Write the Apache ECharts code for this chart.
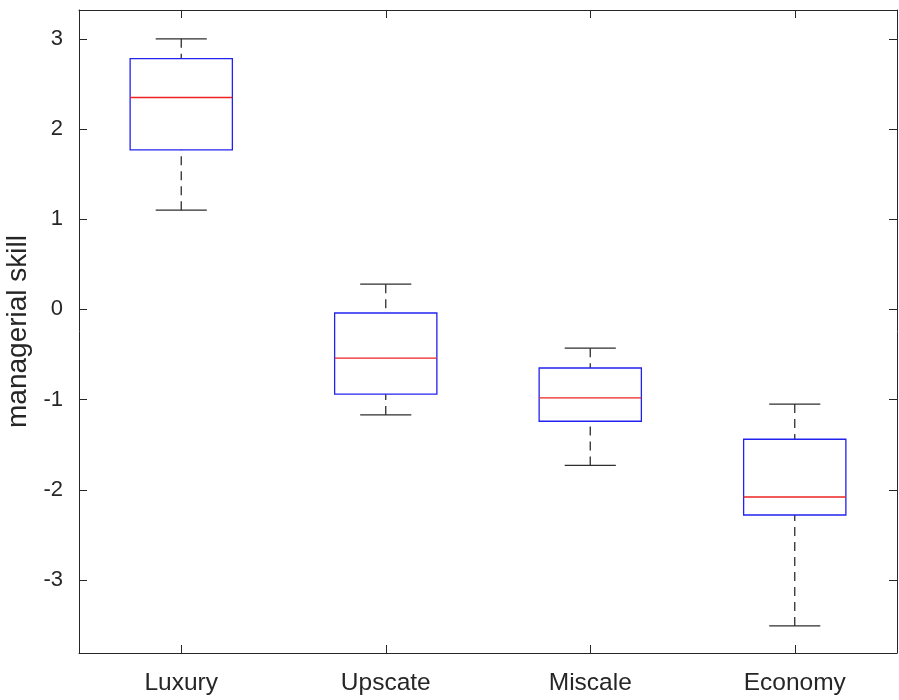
<!DOCTYPE html>
<html>
<head>
<meta charset="utf-8">
<title>Managerial skill by hotel segment</title>
<script src="https://cdn.jsdelivr.net/npm/echarts@6/dist/echarts.min.js"></script>
<style>
  html, body { margin: 0; padding: 0; background: #fff; }
  #chart { width: 899px; height: 700px; }
</style>
</head>
<body>
<div id="chart"></div>
<script>
// Hotel segments on the x axis
const categories = ['Luxury', 'Upscate', 'Miscale', 'Economy'];

// Five-number summaries per segment
const whiskerLow  = [1.10, -1.17, -1.73, -3.51];
const quartile1   = [1.77, -0.94, -1.24, -2.28];
const medians     = [2.35, -0.54, -0.98, -2.08];
const quartile3   = [2.78, -0.04, -0.65, -1.44];
const whiskerHigh = [3.00,  0.28, -0.43, -1.05];

// Y axis range and tick positions
const yRange = [-3.81, 3.32];
const yTicks = [-3, -2, -1, 0, 1, 2, 3];

const textColor = '#262626';
const axisColor = '#262626';
const fontFamily = '"Liberation Sans", Arial, Helvetica, sans-serif';

const boxData = categories.map((c, i) => [
  i, whiskerLow[i], quartile1[i], medians[i], quartile3[i], whiskerHigh[i]
]);

function renderBox(params, api) {
  const i = api.value(0);
  const band = api.size([1, 0])[0];
  const halfBox = band * 0.25;
  const halfCap = band * 0.125;
  const lo = api.coord([i, api.value(1)]);
  const q1 = api.coord([i, api.value(2)]);
  const md = api.coord([i, api.value(3)]);
  const q3 = api.coord([i, api.value(4)]);
  const hi = api.coord([i, api.value(5)]);
  const cx = lo[0];

  const whiskerStyle = { stroke: '#2e2e2e', lineWidth: 1.3, lineDash: [9, 6] };
  const capStyle = { stroke: '#2e2e2e', lineWidth: 1.3 };

  return {
    type: 'group',
    children: [
      { type: 'line', shape: { x1: cx, y1: hi[1], x2: cx, y2: q3[1] }, style: whiskerStyle },
      { type: 'line', shape: { x1: cx, y1: lo[1], x2: cx, y2: q1[1] }, style: whiskerStyle },
      { type: 'line', shape: { x1: cx - halfCap, y1: hi[1], x2: cx + halfCap, y2: hi[1] }, style: capStyle },
      { type: 'line', shape: { x1: cx - halfCap, y1: lo[1], x2: cx + halfCap, y2: lo[1] }, style: capStyle },
      {
        type: 'rect',
        shape: { x: cx - halfBox, y: q3[1], width: halfBox * 2, height: q1[1] - q3[1] },
        style: { fill: 'none', stroke: '#2222ee', lineWidth: 1.3 }
      },
      {
        type: 'line',
        shape: { x1: cx - halfBox, y1: md[1], x2: cx + halfBox, y2: md[1] },
        style: { stroke: '#ee2222', lineWidth: 1.3 }
      }
    ]
  };
}

const chart = echarts.init(document.getElementById('chart'), null, { renderer: 'canvas' });

const catAxisBase = {
  type: 'category',
  data: categories,
  boundaryGap: true,
  axisLine: { show: true, onZero: false, lineStyle: { color: axisColor, width: 1 } },
  axisTick: { show: true, inside: true, alignWithLabel: true, length: 8, lineStyle: { color: axisColor } },
  splitLine: { show: false }
};

const valAxisBase = {
  type: 'value',
  min: yRange[0],
  max: yRange[1],
  axisLine: { show: true, onZero: false, lineStyle: { color: axisColor, width: 1 } },
  axisTick: { show: true, inside: true, length: 8, customValues: yTicks, lineStyle: { color: axisColor } },
  splitLine: { show: false }
};

chart.setOption({
  backgroundColor: '#ffffff',
  animation: false,
  grid: { left: 79, right: 2, top: 10, bottom: 47, containLabel: false, outerBoundsMode: 'none' },
  xAxis: [
    Object.assign({}, catAxisBase, {
      position: 'bottom',
      axisLabel: { show: true, color: textColor, fontSize: 24.5, fontFamily: fontFamily, margin: 18 }
    }),
    Object.assign({}, catAxisBase, {
      position: 'top',
      axisLabel: { show: false }
    })
  ],
  yAxis: [
    Object.assign({}, valAxisBase, {
      position: 'left',
      name: 'managerial skill',
      nameLocation: 'middle',
      nameRotate: 90,
      nameGap: 42,
      nameTextStyle: { color: textColor, fontSize: 28, fontFamily: fontFamily },
      axisLabel: {
        show: true, color: textColor, fontSize: 22, fontFamily: fontFamily, margin: 16,
        customValues: yTicks,
        formatter: v => String(v)
      }
    }),
    Object.assign({}, valAxisBase, {
      position: 'right',
      axisLabel: { show: false }
    })
  ],
  series: [{
    type: 'custom',
    xAxisIndex: 0,
    yAxisIndex: 0,
    renderItem: renderBox,
    encode: { x: 0, y: [1, 2, 3, 4, 5] },
    data: boxData,
    silent: true
  }]
});
</script>
</body>
</html>
